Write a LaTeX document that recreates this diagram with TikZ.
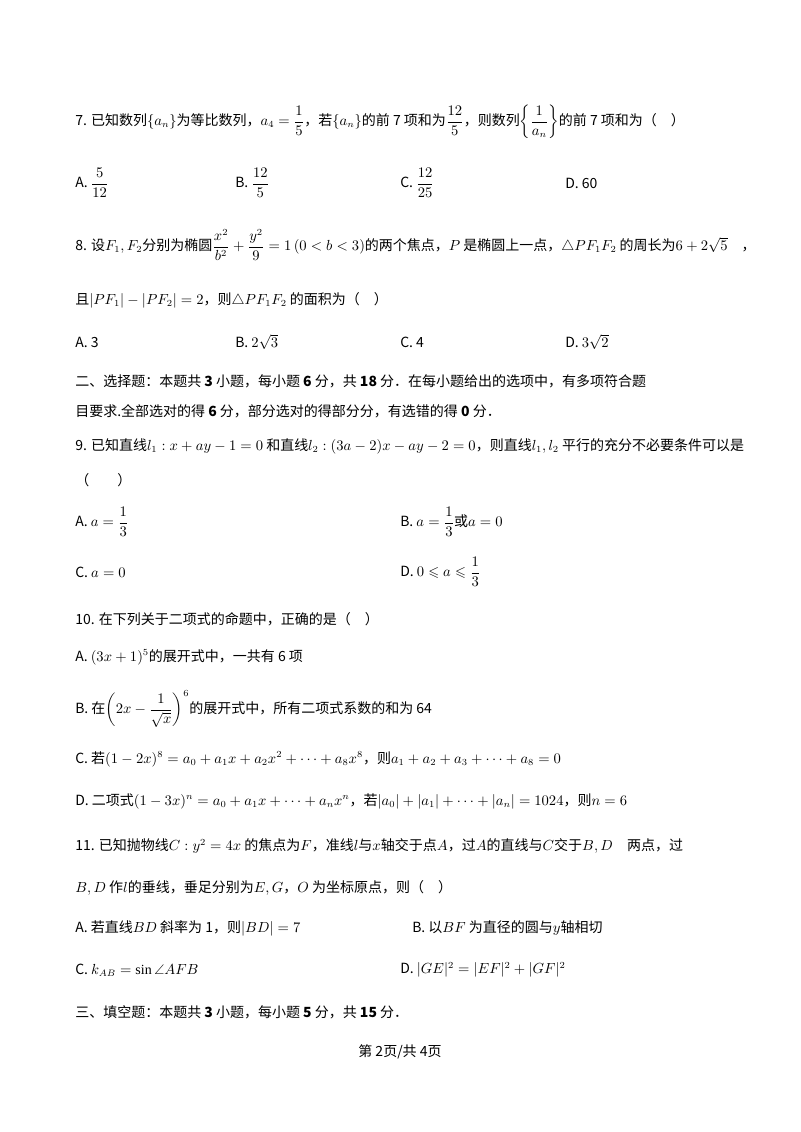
\documentclass[tikz,border=0pt]{standalone}
\usepackage{amsmath,amssymb}
\usepackage{fontspec}
\setmainfont{Liberation Serif}
\newfontfamily\zh{Noto Sans CJK SC}
\begin{document}
\begin{tikzpicture}[x=0.75pt,y=-0.75pt,t/.style={anchor=west,inner sep=0,font=\zh\fontsize{10.5pt}{12pt}\selectfont}]
\useasboundingbox (0,0) rectangle (800,1132);
\node[t] (q7) at (75,122) {7. 已知数列$\{a_n\}$为等比数列，$a_4=\dfrac15$，若$\{a_n\}$的前 7 项和为$\dfrac{12}{5}$，则数列$\left\{\dfrac{1}{a_n}\right\}$的前 7 项和为（\quad）};
\node[t] (a7) at (75,183) {A. $\dfrac{5}{12}$};
\node[t] (b7) at (235,183) {B. $\dfrac{12}{5}$};
\node[t] (c7) at (400,183) {C. $\dfrac{12}{25}$};
\node[t] (d7) at (565,183) {D. 60};
\node[t] (q8) at (75,245) {8. 设$F_1,F_2$分别为椭圆$\dfrac{x^2}{b^2}+\dfrac{y^2}{9}=1\,(0<b<3)$的两个焦点，$P$ 是椭圆上一点，$\triangle PF_1F_2$ 的周长为$6+2\sqrt5$\quad ，};
\node[t] (q8b) at (75,300) {且$|PF_1|-|PF_2|=2$，则$\triangle PF_1F_2$ 的面积为（\quad ）};
\node[t] (a8) at (75,342) {A. 3};
\node[t] (b8) at (235,342) {B. $2\sqrt3$};
\node[t] (c8) at (400,342) {C. 4};
\node[t] (d8) at (565,342) {D. $3\sqrt2$};
\node[t] (h2) at (75,381) {二、选择题：本题共 \textbf{3} 小题，每小题 \textbf{6} 分，共 \textbf{18} 分．在每小题给出的选项中，有多项符合题};
\node[t] (h2b) at (75,411) {目要求.全部选对的得 \textbf{6} 分，部分选对的得部分分，有选错的得 \textbf{0} 分．};
\node[t] (q9) at (75,446) {9. 已知直线$l_1:x+ay-1=0$ 和直线$l_2:(3a-2)x-ay-2=0$，则直线$l_1,l_2$ 平行的充分不必要条件可以是};
\node[t] (q9b) at (75,480) {（\qquad ）};
\node[t] (a9) at (75,522) {A. $a=\dfrac13$};
\node[t] (b9) at (400,522) {B. $a=\dfrac13$或$a=0$};
\node[t] (c9) at (75,572) {C. $a=0$};
\node[t] (d9) at (400,572) {D. $0\leqslant a\leqslant\dfrac13$};
\node[t] (q10) at (75,619) {10. 在下列关于二项式的命题中，正确的是（\quad ）};
\node[t] (a10) at (75,657) {A. $(3x+1)^5$的展开式中，一共有 6 项};
\node[t] (b10) at (75,709) {B. 在$\left(2x-\dfrac{1}{\sqrt x}\right)^6$的展开式中，所有二项式系数的和为 64};
\node[t] (c10) at (75,759) {C. 若$(1-2x)^8=a_0+a_1x+a_2x^2+\cdots+a_8x^8$，则$a_1+a_2+a_3+\cdots+a_8=0$};
\node[t] (d10) at (75,801) {D. 二项式$(1-3x)^n=a_0+a_1x+\cdots+a_nx^n$，若$|a_0|+|a_1|+\cdots+|a_n|=1024$，则$n=6$};
\node[t] (q11) at (75,846) {11. 已知抛物线$C:y^2=4x$ 的焦点为$F$，准线$l$与$x$轴交于点$A$，过$A$的直线与$C$交于$B,D$\quad 两点，过};
\node[t] (q11b) at (75,888) {$B,D$ 作$l$的垂线，垂足分别为$E,G$，$O$ 为坐标原点，则（\quad ）};
\node[t] (a11) at (75,928) {A. 若直线$BD$ 斜率为 1，则$|BD|=7$};
\node[t] (b11) at (412,928) {B. 以$BF$ 为直径的圆与$y$轴相切};
\node[t] (c11) at (75,970) {C. $k_{AB}=\sin\angle AFB$};
\node[t] (d11) at (400,970) {D. $|GE|^2=|EF|^2+|GF|^2$};
\node[t] (h3) at (75,1012) {三、填空题：本题共 \textbf{3} 小题，每小题 \textbf{5} 分，共 \textbf{15} 分．};
\node[t,anchor=center] (ft) at (400,1052) {第 2页/共 4页};
\end{tikzpicture}
\end{document}
